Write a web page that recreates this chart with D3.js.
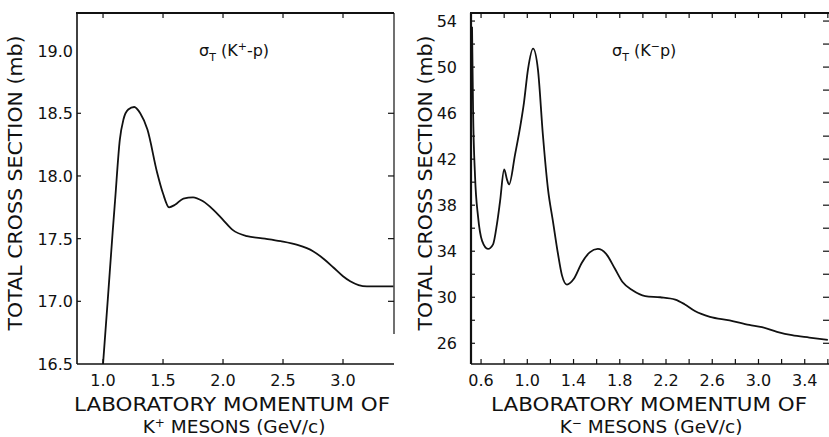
<!DOCTYPE html>
<html>
<head>
<meta charset="utf-8">
<script src="https://cdn.jsdelivr.net/npm/d3@7/dist/d3.min.js"></script>
<style>
  body { margin: 0; background: #fff; }
  svg { display: block; }
</style>
</head>
<body>
<div id="container"></div>
<script>
/* Dimensions de la page */
const width = 829, height = 437;
const fontPolice = "DejaVu Sans";
const ink = "#111";

/* K+ p : impulsion (GeV/c) et section efficace totale (mb) */
const kPlusMomentum = [1.0, 1.04, 1.08, 1.1, 1.14, 1.17, 1.21, 1.26, 1.31, 1.37, 1.45, 1.5, 1.55, 1.6, 1.67, 1.75, 1.83, 1.92, 2.0, 2.08, 2.2, 2.35, 2.48, 2.62, 2.75, 2.85, 2.92, 3.0, 3.06, 3.13, 3.2, 3.42];
const kPlusSigma = [16.5, 17.02, 17.55, 17.8, 18.29, 18.45, 18.53, 18.55, 18.5, 18.37, 18.03, 17.86, 17.75, 17.77, 17.82, 17.83, 17.8, 17.73, 17.65, 17.57, 17.52, 17.5, 17.48, 17.45, 17.4, 17.33, 17.27, 17.2, 17.16, 17.13, 17.12, 17.12];

/* K- p */
const kMinusMomentum = [0.522, 0.531, 0.548, 0.574, 0.609, 0.66, 0.704, 0.738, 0.764, 0.8, 0.825, 0.842, 0.894, 0.945, 0.971, 1.006, 1.05, 1.092, 1.135, 1.179, 1.222, 1.265, 1.3, 1.343, 1.403, 1.472, 1.54, 1.61, 1.68, 1.757, 1.826, 1.91, 2.02, 2.15, 2.28, 2.36, 2.45, 2.58, 2.75, 2.92, 3.03, 3.16, 3.29, 3.44, 3.6];
const kMinusSigma = [53.5, 46.2, 40.5, 37.0, 34.9, 34.2, 34.6, 36.4, 38.3, 41.1, 40.2, 39.8, 42.4, 45.2, 46.9, 49.8, 51.6, 49.8, 44.1, 39.4, 36.6, 33.8, 31.9, 31.1, 31.6, 33.0, 33.9, 34.2, 33.8, 32.5, 31.3, 30.6, 30.1, 30.0, 29.8, 29.4, 28.8, 28.3, 28.0, 27.6, 27.4, 27.0, 26.7, 26.5, 26.3];

/* Graduations */
const leftXTicks = [1.0, 1.5, 2.0, 2.5, 3.0];
const leftYTicks = [16.5, 17.0, 17.5, 18.0, 18.5, 19.0];
const rightXTicks = [0.6, 1.0, 1.4, 1.8, 2.2, 2.6, 3.0, 3.4];
const rightXMinor = [0.6, 0.8, 1.0, 1.2, 1.4, 1.6, 1.8, 2.0, 2.2, 2.4, 2.6, 2.8, 3.0, 3.2, 3.4, 3.6];
const rightYTicks = [26, 30, 34, 38, 42, 46, 50, 54];
const rightYMinor = [26, 28, 30, 32, 34, 36, 38, 40, 42, 44, 46, 48, 50, 52, 54];

const svg = d3.select("#container").append("svg")
  .attr("width", width)
  .attr("height", height);

/**
 * Dessine un panneau complet
**/
function drawPanel(p) {
  const x = d3.scaleLinear().domain(p.xDomain).range([p.left, p.right]);
  const y = d3.scaleLinear().domain(p.yDomain).range([p.bottom, p.top]);
  const g = svg.append("g");

  /* Cadre */
  g.append("line").attr("x1", p.left - 1).attr("x2", p.right).attr("y1", p.top).attr("y2", p.top)
    .style("stroke", ink).style("stroke-width", 2.2);
  g.append("line").attr("x1", p.left).attr("x2", p.left).attr("y1", p.top).attr("y2", p.bottom)
    .style("stroke", ink).style("stroke-width", p.leftStroke);
  g.append("line").attr("x1", p.left).attr("x2", p.right).attr("y1", p.bottom).attr("y2", p.bottom)
    .style("stroke", ink).style("stroke-width", 1.6);
  if (p.rightBorder)
    g.append("line").attr("x1", p.right).attr("x2", p.right).attr("y1", p.top).attr("y2", p.bottom - 30)
      .style("stroke", ink).style("stroke-width", 1.2);

  /* Graduations internes */
  g.selectAll(".tt").data(p.xMinor).enter().append("line")
    .attr("x1", d => x(d)).attr("x2", d => x(d))
    .attr("y1", p.top).attr("y2", p.top + 5)
    .style("stroke", ink).style("stroke-width", 1.2);
  g.selectAll(".bt").data(p.xMinor).enter().append("line")
    .attr("x1", d => x(d)).attr("x2", d => x(d))
    .attr("y1", p.bottom).attr("y2", p.bottom - 5)
    .style("stroke", ink).style("stroke-width", 1.2);
  g.selectAll(".lt").data(p.yMinor).enter().append("line")
    .attr("x1", p.left).attr("x2", p.left + 4)
    .attr("y1", d => y(d)).attr("y2", d => y(d))
    .style("stroke", ink).style("stroke-width", 1.2);
  g.selectAll(".rt").data(p.yMinor).enter().append("line")
    .attr("x1", p.right).attr("x2", p.right - 6)
    .attr("y1", d => y(d)).attr("y2", d => y(d))
    .style("stroke", ink).style("stroke-width", 1.2);

  /* Etiquettes des axes */
  g.selectAll(".xl").data(p.xTicks).enter().append("text")
    .attr("x", d => x(d)).attr("y", 386)
    .style("font-family", fontPolice).style("font-size", "16px")
    .style("text-anchor", "middle").style("fill", ink)
    .text(d => d.toFixed(1));
  g.selectAll(".yl").data(p.yTicks).enter().append("text")
    .attr("x", p.left - p.labelGap).attr("y", d => y(d) + 6)
    .style("font-family", fontPolice).style("font-size", "16px")
    .style("text-anchor", "end").style("fill", ink)
    .text(d => p.yFormat(d));

  /* Courbe */
  const line = d3.line()
    .x((d, i) => x(p.xs[i]))
    .y(d => y(d))
    .curve(d3.curveMonotoneX);
  g.append("path").datum(p.ys)
    .attr("d", line)
    .style("fill", "none").style("stroke", ink).style("stroke-width", 1.8);

  /* Titre de l'axe Y */
  g.append("text")
    .attr("transform", "translate(" + p.yTitleX + ",183) rotate(-90)")
    .attr("textLength", 295).attr("lengthAdjust", "spacingAndGlyphs")
    .style("font-family", fontPolice).style("font-size", "19px")
    .style("text-anchor", "middle").style("fill", ink)
    .text("TOTAL CROSS SECTION (mb)");

  /* Titre de l'axe X */
  g.append("text")
    .attr("x", p.xTitleX).attr("y", 411)
    .attr("textLength", 316).attr("lengthAdjust", "spacingAndGlyphs")
    .style("font-family", fontPolice).style("font-size", "19px")
    .style("text-anchor", "middle").style("fill", ink)
    .text("LABORATORY MOMENTUM OF");
  const t2 = g.append("text")
    .attr("x", p.xTitleX + 2).attr("y", 433)
    .style("font-family", fontPolice).style("font-size", "18.5px")
    .style("text-anchor", "middle").style("fill", ink);
  t2.append("tspan").text("K");
  t2.append("tspan").attr("dy", -6).style("font-size", "12px").text(p.charge);
  t2.append("tspan").attr("dy", 6).text(" MESONS (GeV/c)");

  /* Titre du panneau */
  const t = g.append("text")
    .attr("x", p.titleX).attr("y", 56)
    .style("font-family", fontPolice).style("font-size", "16px").style("fill", ink);
  t.append("tspan").text("σ");
  t.append("tspan").attr("dy", 5).style("font-size", "11px").text("T");
  t.append("tspan").attr("dy", -5).text(" (K");
  t.append("tspan").attr("dy", -6).style("font-size", "11px").text(p.titleCharge);
  t.append("tspan").attr("dy", 6).text(p.titleTail);
}

drawPanel({
  left: 77, right: 394, top: 13, bottom: 364,
  xDomain: [0.783, 3.425], yDomain: [16.5, 19.3],
  xs: kPlusMomentum, ys: kPlusSigma,
  xTicks: leftXTicks, xMinor: leftXTicks,
  yTicks: leftYTicks, yMinor: leftYTicks.slice(1, 5),
  yFormat: d => d.toFixed(1), labelGap: 4,
  leftStroke: 1.6, rightBorder: true,
  yTitleX: 22, xTitleX: 232, charge: "+",
  titleX: 199, titleCharge: "+", titleTail: "-p)"
});

drawPanel({
  left: 471, right: 829, top: 13, bottom: 364,
  xDomain: [0.513, 3.61], yDomain: [24.2, 54.7],
  xs: kMinusMomentum, ys: kMinusSigma,
  xTicks: rightXTicks, xMinor: rightXMinor,
  yTicks: rightYTicks, yMinor: rightYMinor,
  yFormat: d => d, labelGap: 14,
  leftStroke: 2.2, rightBorder: false,
  yTitleX: 432, xTitleX: 649, charge: "\u2212",
  titleX: 612, titleCharge: "\u2212", titleTail: "p)"
});
</script>
</body>
</html>
